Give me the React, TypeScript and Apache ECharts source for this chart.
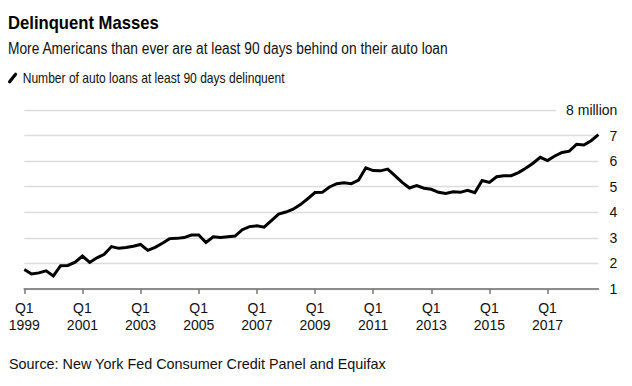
import React, { useEffect, useRef } from "react";
import * as echarts from "echarts";

const TITLE = "Delinquent Masses";
const SUBTITLE = "More Americans than ever are at least 90 days behind on their auto loan";
const SERIES_NAME = "Number of auto loans at least 90 days delinquent";
const SOURCE = "Source: New York Fed Consumer Credit Panel and Equifax";

const years = [1999, 2000, 2001, 2002, 2003, 2004, 2005, 2006, 2007, 2008, 2009, 2010, 2011, 2012, 2013, 2014, 2015, 2016, 2017, 2018];
const quarterNames = ["Q1", "Q2", "Q3", "Q4"];
const categories = years.flatMap((y) => quarterNames.map((q) => `${q} ${y}`));

// Millions of auto loans at least 90 days delinquent, Q1 1999 - Q4 2018
const delinquentMillions = [
  1.76, 1.59, 1.63, 1.71, 1.51, 1.91, 1.92, 2.05,
  2.29, 2.04, 2.22, 2.36, 2.66, 2.59, 2.62, 2.67,
  2.74, 2.51, 2.63, 2.79, 2.97, 2.98, 3.01, 3.11,
  3.11, 2.82, 3.04, 3.01, 3.04, 3.07, 3.32, 3.44,
  3.47, 3.42, 3.67, 3.93, 4.01, 4.12, 4.3, 4.53,
  4.77, 4.78, 4.99, 5.12, 5.15, 5.12, 5.26, 5.74,
  5.63, 5.62, 5.69, 5.43, 5.17, 4.95, 5.04, 4.94,
  4.9, 4.78, 4.74, 4.8, 4.78, 4.86, 4.77, 5.24,
  5.17, 5.39, 5.43, 5.43, 5.55, 5.72, 5.92, 6.15,
  6.02, 6.2, 6.34, 6.39, 6.66, 6.63, 6.8, 7.04,
];

const Y_MIN = 1;
const Y_MAX = 8;
const Y_STEP = 1;
const TOP_LABEL = "8 million";

const FONT = '"Liberation Sans", Arial, Helvetica, sans-serif';

export default function App() {
  const ref = useRef<HTMLDivElement>(null);

  useEffect(() => {
    if (!ref.current) return;
    const chart = echarts.init(ref.current, null, { renderer: "svg" });
    const showEvery8 = (i: number) => i % 8 === 0;
    chart.setOption({
      animation: false,
      backgroundColor: "#fff",
      textStyle: { fontFamily: FONT },
      grid: { left: 24.3, right: 33.6, top: 110, bottom: 97, containLabel: false },
      xAxis: {
        type: "category",
        data: categories,
        boundaryGap: false,
        axisLine: { show: true, lineStyle: { color: "#8c8c8c", width: 1.8 } },
        axisTick: { show: true, interval: (i: number) => showEvery8(i), length: 5, lineStyle: { color: "#777", width: 1.5 } },
        axisLabel: {
          interval: (i: number) => showEvery8(i),
          formatter: (v: string) => v.replace(" ", "\n"),
          fontSize: 14,
          lineHeight: 17.5,
          color: "#111",
          margin: 10,
          fontFamily: FONT,
        },
        splitLine: { show: false },
      },
      yAxis: {
        type: "value",
        position: "right",
        min: Y_MIN,
        max: Y_MAX,
        interval: Y_STEP,
        axisLine: { show: false },
        axisTick: { show: false },
        splitLine: { show: true, lineStyle: { color: "#dcdcdc", width: 1.3 } },
        axisLabel: {
          align: "right",
          margin: 19,
          fontSize: 14,
          color: "#111",
          fontFamily: FONT,
          formatter: (v: number) => (v === Y_MAX ? `{m|${TOP_LABEL}}` : String(v)),
          rich: {
            m: { fontSize: 14, color: "#111", fontFamily: FONT, backgroundColor: "#fff", padding: [3, 0, 3, 10] },
          },
        },
      },
      series: [
        {
          name: SERIES_NAME,
          type: "line",
          data: delinquentMillions,
          showSymbol: false,
          symbol: "none",
          lineStyle: { color: "#000", width: 3, join: "miter" },
          z: 5,
        },
      ],
      graphic: [
        {
          type: "text",
          x: 8,
          y: 22.6,
          scaleX: 0.9,
          style: { text: TITLE, fill: "#000", fontSize: 18.5, fontWeight: "bold", fontFamily: FONT, verticalAlign: "middle", align: "left" },
        },
        {
          type: "text",
          x: 8,
          y: 48.2,
          scaleX: 0.861,
          style: { text: SUBTITLE, fill: "#111", fontSize: 16, fontFamily: FONT, verticalAlign: "middle", align: "left" },
        },
        {
          type: "line",
          shape: { x1: 9.6, y1: 81.8, x2: 15.6, y2: 74.2 },
          style: { stroke: "#000", lineWidth: 3.2, lineCap: "round" },
        },
        {
          type: "text",
          x: 22.7,
          y: 77.7,
          scaleX: 0.862,
          style: { text: SERIES_NAME, fill: "#111", fontSize: 14, fontFamily: FONT, verticalAlign: "middle", align: "left" },
        },
        {
          type: "text",
          x: 9,
          y: 363.8,
          style: { text: SOURCE, fill: "#111", fontSize: 14.4, fontFamily: FONT, verticalAlign: "middle", align: "left" },
        },
      ],
    });
    return () => chart.dispose();
  }, []);

  return (
    <div
      ref={ref}
      style={{ position: "absolute", left: 0, top: 0, width: 632, height: 386, background: "#fff" }}
    />
  );
}
